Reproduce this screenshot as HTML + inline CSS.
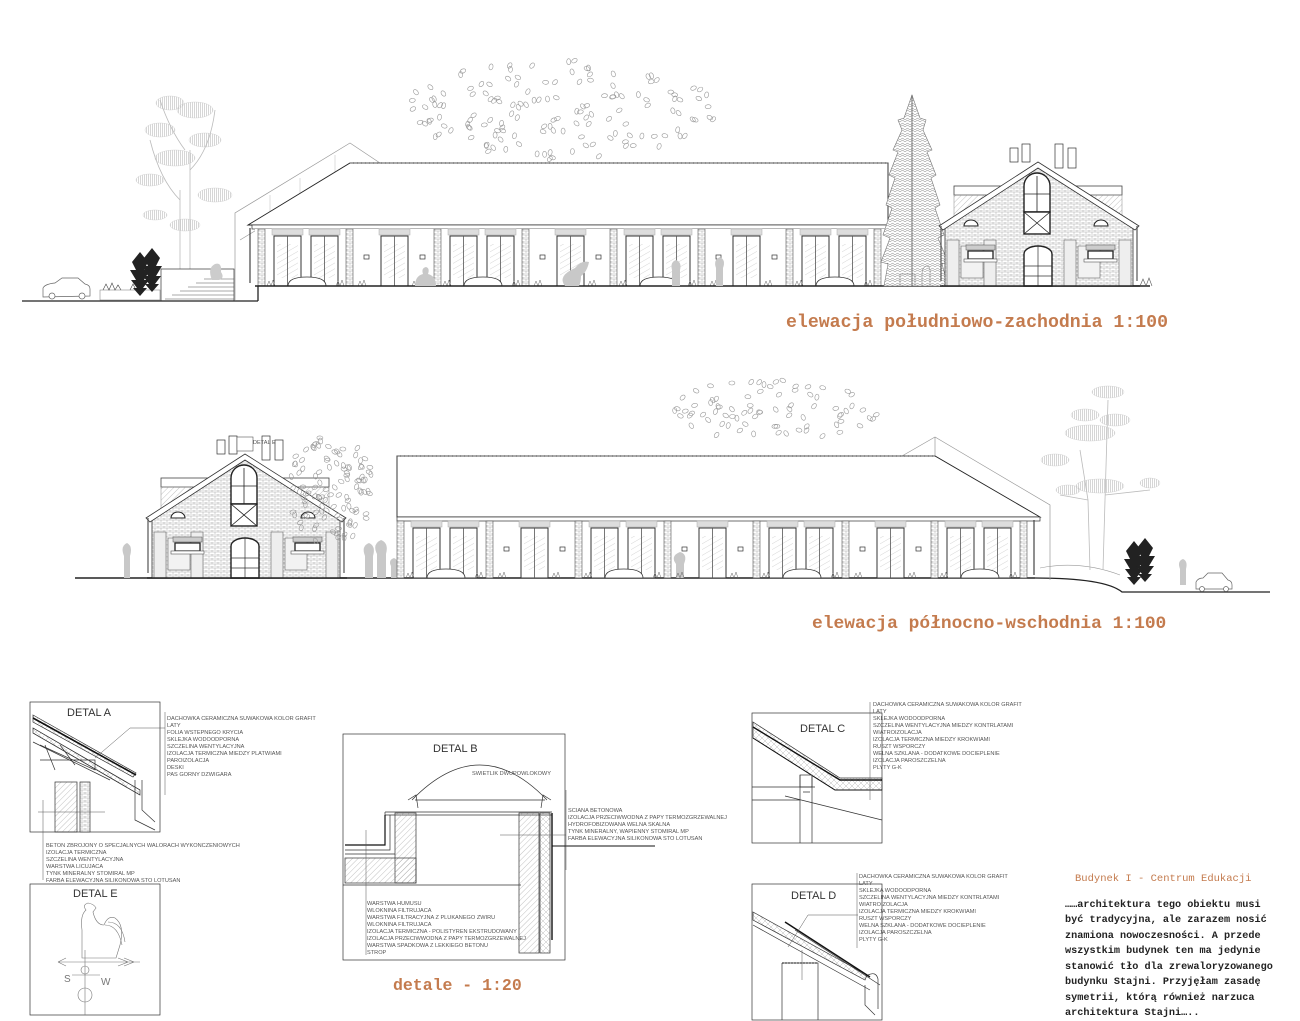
<!DOCTYPE html>
<html><head><meta charset="utf-8">
<style>
html,body{margin:0;padding:0;background:#fff;}
svg{display:block;}
.t{font-family:"Liberation Sans",sans-serif;font-size:5.6px;fill:#555;}
.ti{font-family:"Liberation Mono",monospace;font-weight:bold;fill:#c47b4e;}
.dl{font-family:"Liberation Sans",sans-serif;font-size:11px;fill:#333;}
.p{font-family:"Liberation Mono",monospace;font-size:10.2px;fill:#222;font-weight:bold;}
</style></head><body>
<svg width="1300" height="1021" viewBox="0 0 1300 1021" xmlns="http://www.w3.org/2000/svg">
<defs>
<pattern id="brick" width="6" height="4" patternUnits="userSpaceOnUse">
<rect width="6" height="4" fill="#fff"/>
<path d="M0 0H6M0 2H6M1 0V2M4 2V4" stroke="#aaa" stroke-width="0.5"/>
</pattern>
<pattern id="hatch" width="4" height="4" patternUnits="userSpaceOnUse" patternTransform="rotate(45)">
<path d="M0 0V4" stroke="#999" stroke-width="0.6"/>
</pattern>
<pattern id="vl" width="2" height="4" patternUnits="userSpaceOnUse">
<path d="M0.5 0V4" stroke="#bbb" stroke-width="0.6"/>
</pattern>
<pattern id="glass" width="5" height="5" patternUnits="userSpaceOnUse" patternTransform="rotate(60)">
<path d="M0 0V5" stroke="#ccc" stroke-width="0.8"/>
</pattern>
<pattern id="ins" width="6" height="6" patternUnits="userSpaceOnUse">
<path d="M0 0L6 6M6 0L0 6" stroke="#bbb" stroke-width="0.5"/>
</pattern>
<pattern id="fol" width="5" height="5" patternUnits="userSpaceOnUse">
<rect width="5" height="5" fill="#fff"/>
<path d="M0 2L2.5 0L5 2M0 5L2.5 3L5 5" stroke="#777" stroke-width="0.5" fill="none"/>
</pattern>
<g id="door">
<rect x="0" y="0" width="27" height="50" fill="#fff" stroke="#333" stroke-width="1"/>
<rect x="3" y="8" width="21" height="34" fill="url(#glass)"/>
<line x1="13.5" y1="0" x2="13.5" y2="50" stroke="#555" stroke-width="0.8"/>
<rect x="-2" y="-7" width="31" height="6" fill="#ddd" stroke="#aaa" stroke-width="0.5"/>
</g>
<g id="pier"><rect x="0" y="4" width="7" height="57" fill="url(#brick)" stroke="#555" stroke-width="0.6"/></g>
<g id="bayA">
<use href="#pier"/>
<use href="#door" x="16" y="11"/>
<use href="#door" x="53" y="11"/>
<path d="M30 61 Q30 52 49 52 Q68 52 68 61Z" fill="#fff" stroke="#333" stroke-width="0.8"/>
<path d="M9 61l2-5 2 5 2-6 2 6M78 61l2-5 2 5 2-6 2 6" stroke="#666" fill="none" stroke-width="0.5"/>
</g>
<g id="bayB">
<use href="#pier"/>
<use href="#door" x="35" y="11"/>
<rect x="18" y="30" width="5" height="4" fill="none" stroke="#333" stroke-width="0.7"/>
<rect x="74" y="30" width="5" height="4" fill="none" stroke="#333" stroke-width="0.7"/>
<path d="M12 61l2-5 2 5 2-6 2 6M66 61l2-5 2 5 2-6 2 6" stroke="#666" fill="none" stroke-width="0.5"/>
</g>
<g id="stable">
<rect x="-86" y="-100" width="168" height="9" fill="#fff" stroke="#444" stroke-width="0.8"/>
<rect x="-86" y="-91" width="168" height="30" fill="url(#hatch)" stroke="#888" stroke-width="0.5"/>
<path d="M-95 -58 L-2 -118 L93 -58 V0 H-95Z" fill="url(#brick)" stroke="#333" stroke-width="0.8"/>
<path d="M-101 -60 L-2 -124 L99 -60 L95 -56 L-2 -118 L-97 -56Z" fill="#fff" stroke="#333" stroke-width="0.8"/>
<rect x="-30" y="-138" width="8" height="14" fill="#fff" stroke="#333" stroke-width="0.7"/>
<rect x="-18" y="-142" width="8" height="18" fill="#fff" stroke="#333" stroke-width="0.7"/>
<rect x="15" y="-142" width="8" height="24" fill="#fff" stroke="#333" stroke-width="0.7"/>
<rect x="28" y="-138" width="8" height="20" fill="#fff" stroke="#333" stroke-width="0.7"/>
<g fill="#eee" stroke="#666" stroke-width="0.6">
<rect x="-93" y="-46" width="12" height="46"/><rect x="-56" y="-46" width="12" height="46"/>
<rect x="24" y="-46" width="12" height="46"/><rect x="79" y="-46" width="12" height="46"/>
<rect x="-79" y="-40" width="22" height="32" fill="#f2f2f2"/><rect x="38" y="-40" width="22" height="32" fill="#f2f2f2"/>
</g>
<path d="M-16 -74 V-100 A13 13 0 0 1 10 -100 V-74Z" fill="#fff" stroke="#222" stroke-width="1.4"/>
<rect x="-16" y="-74" width="26" height="22" fill="#fff" stroke="#222" stroke-width="1.4"/>
<path d="M-16 -74L10 -52M10 -74L-16 -52M-3 -110V-74M-16 -92H10" stroke="#222" stroke-width="0.8"/>
<path d="M-16 0 V-32 A14 8 0 0 1 12 -32 V0Z" fill="#fff" stroke="#222" stroke-width="1.4"/>
<path d="M-2 -40V0M-16 -20H12M-16 -10H12" stroke="#333" stroke-width="0.7"/>
<path d="M-72 -27 V-35 H-47 V-27Z M48 -27 V-35 H73 V-27Z" fill="#fff" stroke="#222" stroke-width="1.3"/>
<rect x="-74" y="-41" width="29" height="5" fill="#ccc" stroke="#555" stroke-width="0.5"/>
<rect x="46" y="-41" width="29" height="5" fill="#ccc" stroke="#555" stroke-width="0.5"/>
<rect x="-76" y="-27" width="33" height="3" fill="#fff" stroke="#555" stroke-width="0.6"/>
<rect x="44" y="-27" width="33" height="3" fill="#fff" stroke="#555" stroke-width="0.6"/>
<path d="M-76 -60 A7 6 0 0 1 -62 -60Z M54 -60 A7 6 0 0 1 68 -60Z" fill="#fff" stroke="#222" stroke-width="1.1"/>
<path d="M-99 -60V-5M97 -60V-5" stroke="#555" stroke-width="1.2"/>
<line x1="-100" y1="0" x2="100" y2="0" stroke="#222" stroke-width="1.5"/>
</g>
<g id="pine" fill="#222">
<path d="M0 0 L-7 -8 L-3 -8 L-9 -16 L-4 -16 L-10 -26 L-4 -26 L-8 -34 L0 -44 L8 -34 L4 -26 L10 -26 L4 -16 L9 -16 L3 -8 L7 -8Z"/>
</g>
</defs>

<!-- ===== ELEVATION 1 ===== -->
<g id="e1">
<g stroke="#bbb" fill="none" stroke-width="0.8">
<path d="M180 290 V190 M190 290 V150 M180 200 Q160 180 150 140 M190 170 Q210 150 215 110 M185 150 Q170 130 160 100"/>
</g>
<g fill="url(#vl)" stroke="#ccc" stroke-width="0.4">
<ellipse cx="170" cy="103" rx="14" ry="7"/><ellipse cx="195" cy="110" rx="18" ry="8"/>
<ellipse cx="160" cy="130" rx="15" ry="7"/><ellipse cx="205" cy="140" rx="16" ry="7"/>
<ellipse cx="175" cy="158" rx="20" ry="8"/><ellipse cx="150" cy="180" rx="14" ry="6"/>
<ellipse cx="215" cy="195" rx="17" ry="7"/><ellipse cx="185" cy="225" rx="15" ry="6"/>
<ellipse cx="155" cy="215" rx="12" ry="5"/>
</g>
<g stroke="#666" fill="#fff" stroke-width="0.7">
<path d="M43 297 V288 Q45 284 55 283 L62 278 H78 L85 284 Q90 285 90 289 V296Z"/>
<circle cx="52" cy="296" r="3"/><circle cx="82" cy="296" r="3"/>
</g>
<rect x="100" y="290" width="60" height="10" fill="#fff" stroke="#777" stroke-width="0.5"/>
<path d="M103 290l3-6 3 6 3-7 3 7 3-5 3 5M130 290l3-6 3 6 3-7 3 7" stroke="#444" fill="none" stroke-width="0.6"/>
<use href="#pine" x="140" y="296"/><use href="#pine" x="152" y="292"/>
<rect x="161" y="269" width="73" height="32" fill="#fff" stroke="#333" stroke-width="0.7"/>
<path d="M165 299H234M172 295H234M180 291H234M188 287H234M196 283H234M204 279H234" stroke="#555" stroke-width="0.6"/>
<path d="M212 280 q-5 -12 3 -16 q7 -2 6 8 q4 6 -2 8Z" fill="#ccc"/>
<line x1="22" y1="301" x2="258" y2="301" stroke="#222" stroke-width="1.3"/>
<line x1="258" y1="286" x2="258" y2="301" stroke="#222" stroke-width="1.3"/>
<path d="M235 300 V213 L350 143 L380 163 M240 240 L345 176" stroke="#999" fill="none" stroke-width="0.7"/>
<path d="M270 195V225M300 178V225M335 155V225" stroke="#bbb" stroke-width="0.5"/>
<path d="M248 225 L350 163 H888 V225Z" fill="#fff" stroke="#222" stroke-width="0.9"/>
<line x1="350" y1="163" x2="888" y2="163" stroke="#555" stroke-width="1" stroke-dasharray="3 1"/>
<rect x="252" y="225" width="636" height="4" fill="#fff" stroke="#333" stroke-width="0.7"/>
<rect x="255" y="229" width="633" height="57" fill="#fff"/>
<g>
<use href="#bayA" x="258" y="225"/><use href="#bayB" x="346" y="225"/>
<use href="#bayA" x="434" y="225"/><use href="#bayB" x="522" y="225"/>
<use href="#bayA" x="610" y="225"/><use href="#bayB" x="698" y="225"/>
<use href="#bayA" x="786" y="225"/><use href="#pier" x="874" y="225"/>
</g>
<path d="M250 228 V283" stroke="#444" stroke-width="1.2"/>
<line x1="255" y1="286" x2="1150" y2="286" stroke="#222" stroke-width="1.5"/>
<g fill="#c8c8c8">
<path d="M415 286 q0-10 8-12 q-2-6 3-7 q4 1 2 7 q8 2 8 12Z"/>
<path d="M565 286 q-8-10 10-18 q6-8 14-6 q-2 10 -8 14 q0 6 -2 10Z"/>
<path d="M672 286 v-16 q-2-8 4-10 q6 2 4 10 v16Z"/>
<path d="M716 286 v-18 q-3-8 4-11 q6 3 3 11 v18Z"/>
<path d="M1032 286 v-22 q-4-10 4-12 q7 3 4 12 v22Z"/>
</g>
<!-- conifer -->
<path d="M912 95 L904 118 L898 120 L902 130 L893 150 L898 152 L889 175 L895 178 L886 205 L892 208 L883 235 L890 238 L881 262 L888 264 L884 286 H948 L942 264 L948 262 L938 238 L944 235 L935 208 L940 205 L931 178 L936 175 L927 152 L932 150 L923 130 L926 120 L920 118Z" fill="url(#fol)" stroke="#777" stroke-width="0.6"/>
<path d="M912 95 V286" stroke="#555" stroke-width="0.8"/>
<use href="#stable" x="1040" y="286"/>
<path d="M900 286 v-12 h14 M905 274 h10 v12 M922 286 v-12 q0-6 4-8 q5 0 4 8 v12" stroke="#888" fill="none" stroke-width="0.6"/>
<path d="M1140 286 l3-7 3 7 3-8 3 8" stroke="#555" fill="none" stroke-width="0.6"/>
<text class="ti" x="786" y="327" font-size="18.2">elewacja południowo-zachodnia 1:100</text>
</g>

<!-- ===== ELEVATION 2 ===== -->
<g id="e2">
<line x1="75" y1="578" x2="1035" y2="578" stroke="#222" stroke-width="1.5"/>
<path d="M1035 578 Q1105 578 1122 592 H1270" stroke="#222" fill="none" stroke-width="1.3"/>
<path d="M1040 568 Q1080 560 1120 575" stroke="#999" fill="none" stroke-width="0.6"/>
<use href="#stable" x="247" y="578"/>
<rect x="237" y="437" width="16" height="14" fill="#fff" stroke="#555" stroke-width="0.6"/>
<text class="t" x="253" y="444" font-size="6">DETAL E</text>
<g fill="#c8c8c8">
<path d="M124 578 v-22 q-4-10 3-13 q6 3 3 13 v22Z"/>
<path d="M365 578 v-22 q-4-10 4-13 q7 3 4 13 v22Z"/>
<path d="M377 578 v-24 q-5-10 4-14 q8 3 5 14 v24Z"/>
<path d="M391 578 v-12 q-3-6 3-8 q5 2 3 8 v12Z"/>
<path d="M676 578 v-14 q-6-8 4-12 q8 2 4 12 v14Z"/>
<path d="M1180 585 v-16 q-3-8 3-10 q5 2 3 10 v16Z"/>
</g>
<path d="M902 456 L935 437 L1050 505 V580 M935 437 V456" stroke="#999" fill="none" stroke-width="0.7"/>
<path d="M397 456 H935 L1040 517 H397Z" fill="#fff" stroke="#222" stroke-width="0.9"/>
<line x1="397" y1="456" x2="935" y2="456" stroke="#555" stroke-width="1" stroke-dasharray="3 1"/>
<rect x="397" y="517" width="643" height="4" fill="#fff" stroke="#333" stroke-width="0.7"/>
<use href="#bayA" x="397" y="517"/><use href="#bayB" x="486" y="517"/>
<use href="#bayA" x="575" y="517"/><use href="#bayB" x="664" y="517"/>
<use href="#bayA" x="753" y="517"/><use href="#bayB" x="842" y="517"/>
<use href="#bayA" x="931" y="517"/><use href="#pier" x="1020" y="517"/>
<path d="M1034 520 V575" stroke="#444" stroke-width="1.2"/>
<g stroke="#bbb" fill="none" stroke-width="0.8">
<path d="M1090 570 L1088 500 L1080 450 M1103 570 L1105 500 L1108 400 M1088 500 L1060 495 M1105 495 L1150 490"/>
</g>
<g fill="url(#vl)" stroke="#ccc" stroke-width="0.4">
<ellipse cx="1108" cy="392" rx="16" ry="6"/><ellipse cx="1085" cy="415" rx="14" ry="6"/>
<ellipse cx="1115" cy="420" rx="15" ry="6"/><ellipse cx="1090" cy="433" rx="25" ry="8"/>
<ellipse cx="1055" cy="460" rx="14" ry="6"/><ellipse cx="1100" cy="486" rx="24" ry="7"/>
<ellipse cx="1068" cy="490" rx="12" ry="5"/><ellipse cx="1150" cy="483" rx="10" ry="5"/>
</g>
<use href="#pine" x="1134" y="585"/><use href="#pine" x="1145" y="582"/>
<g stroke="#666" fill="#fff" stroke-width="0.7">
<path d="M1196 589 V582 Q1198 578 1203 578 L1208 573 H1222 L1228 580 Q1232 581 1232 585 V589Z"/>
<circle cx="1202" cy="589" r="2.5"/><circle cx="1226" cy="589" r="2.5"/>
</g>
<text class="ti" x="812" y="628" font-size="17.9">elewacja północno-wschodnia 1:100</text>
</g>

<!-- ===== DETAILS ===== -->
<g stroke="#333" fill="none" stroke-width="0.7">
<rect x="30" y="702" width="130" height="130"/>
<path d="M33 715 L136 773 L133 777 L33 722Z" fill="url(#ins)"/>
<path d="M33 718 L136 775" stroke="#111" stroke-width="1.6"/>
<path d="M33 728 L140 790 M33 733 L140 795 M33 742 L110 780" />
<path d="M33 728 L140 790 L140 795 L33 733Z" fill="url(#ins)"/>
<path d="M40 760 L95 760 L95 770 L40 745 M60 745 L75 765 M45 745 L55 770"/>
<rect x="55" y="782" width="22" height="50" fill="url(#hatch)"/>
<rect x="80" y="782" width="10" height="50" fill="url(#brick)"/>
<path d="M135 780 v40 l20 10 M142 780 v30 l13 12"/>
<path d="M95 758 L130 728 H165" stroke="#555" stroke-width="0.5"/>
<path d="M165 712 V795" stroke="#555" stroke-width="0.5"/>
<path d="M43 800 V880 M38 812 H105" stroke="#555" stroke-width="0.5"/>
</g>
<text class="dl" x="67" y="716">DETAL A</text>
<g class="t">
<text x="167" y="720">DACHOWKA CERAMICZNA SUWAKOWA KOLOR GRAFIT</text>
<text x="167" y="727">LATY</text>
<text x="167" y="734">FOLIA WSTEPNEGO KRYCIA</text>
<text x="167" y="741">SKLEJKA WODOODPORNA</text>
<text x="167" y="748">SZCZELINA WENTYLACYJNA</text>
<text x="167" y="755">IZOLACJA TERMICZNA MIEDZY PLATWIAMI</text>
<text x="167" y="762">PAROIZOLACJA</text>
<text x="167" y="769">DESKI</text>
<text x="167" y="776">PAS GORNY DZWIGARA</text>
<text x="46" y="847">BETON ZBROJONY O SPECJALNYCH WALORACH WYKONCZENIOWYCH</text>
<text x="46" y="854">IZOLACJA TERMICZNA</text>
<text x="46" y="861">SZCZELINA WENTYLACYJNA</text>
<text x="46" y="868">WARSTWA LICUJACA</text>
<text x="46" y="875">TYNK MINERALNY STOMIRAL MP</text>
<text x="46" y="882">FARBA ELEWACYJNA SILIKONOWA STO LOTUSAN</text>
</g>
<rect x="30" y="884" width="130" height="131" fill="none" stroke="#333" stroke-width="0.7"/>
<text class="dl" x="73" y="897">DETAL E</text>
<g stroke="#777" fill="none" stroke-width="0.6">
<path d="M82 958 V930 Q80 915 86 910 Q82 905 88 903 Q94 904 96 908 L93 912 Q96 925 104 925 Q108 915 115 918 Q125 925 120 945 L116 958 Z"/>
<path d="M105 925 Q118 925 122 945 M108 922 Q122 922 125 942"/>
<path d="M58 962 H140 M58 962 l8 -4 M58 962 l8 4 M118 958 l10 4 l-10 4 M124 958 l10 4 l-10 4"/>
<path d="M85 950 V1015"/>
<circle cx="85" cy="970" r="4"/><circle cx="85" cy="995" r="7"/>
<path d="M72 975 H100"/>
</g>
<text x="64" y="982" style="font-family:'Liberation Sans',sans-serif;font-size:10px;fill:#777">S</text>
<text x="101" y="985" style="font-family:'Liberation Sans',sans-serif;font-size:10px;fill:#777">W</text>

<g stroke="#333" fill="none" stroke-width="0.7">
<rect x="343" y="734" width="222" height="226"/>
<path d="M412 800 Q480 730 547 800" />
<path d="M408 800 L416 795 L418 808 M551 800 L543 795 L541 808"/>
<line x1="415" y1="800" x2="545" y2="800"/>
<path d="M385 812 H552 M385 812 V815 H552"/>
<rect x="395" y="813" width="21" height="70" fill="url(#hatch)"/>
<rect x="345" y="858" width="71" height="25" fill="url(#hatch)"/>
<rect x="519" y="813" width="20" height="140" fill="url(#hatch)"/>
<rect x="540" y="813" width="10" height="140" fill="url(#ins)"/>
<path d="M552 813 V940" stroke="#111" stroke-width="1.4"/>
<path d="M385 815 V845 H345" stroke="#111" stroke-width="1.2"/>
<path d="M345 850 H390 V815 M345 854 H395" />
<path d="M343 885 H521"/>
<path d="M552 846 H655" stroke="#111" stroke-width="1"/>
<path d="M566 790 V870" stroke="#555" stroke-width="0.5"/>
<path d="M500 835 H566" stroke="#555" stroke-width="0.5"/>
<path d="M366 830 V955" stroke="#555" stroke-width="0.5"/>
</g>
<text class="dl" x="433" y="752">DETAL B</text>
<g class="t">
<text x="472" y="775">SWIETLIK DWUPOWLOKOWY</text>
<text x="568" y="812">SCIANA BETONOWA</text>
<text x="568" y="819">IZOLACJA PRZECIWWODNA Z PAPY TERMOZGRZEWALNEJ</text>
<text x="568" y="826">HYDROFOBIZOWANA WELNA SKALNA</text>
<text x="568" y="833">TYNK MINERALNY, WAPIENNY STOMIRAL MP</text>
<text x="568" y="840">FARBA ELEWACYJNA SILIKONOWA STO LOTUSAN</text>
<text x="367" y="905">WARSTWA HUMUSU</text>
<text x="367" y="912">WLOKNINA FILTRUJACA</text>
<text x="367" y="919">WARSTWA FILTRACYJNA Z PLUKANEGO ZWIRU</text>
<text x="367" y="926">WLOKNINA FILTRUJACA</text>
<text x="367" y="933">IZOLACJA TERMICZNA - POLISTYREN EKSTRUDOWANY</text>
<text x="367" y="940">IZOLACJA PRZECIWWODNA Z PAPY TERMOZGRZEWALNEJ</text>
<text x="367" y="947">WARSTWA SPADKOWA Z LEKKIEGO BETONU</text>
<text x="367" y="954">STROP</text>
</g>
<text class="ti" x="393" y="990" font-size="16.5">detale - 1:20</text>

<g stroke="#333" fill="none" stroke-width="0.7">
<rect x="752" y="713" width="130" height="130"/>
<path d="M753 722 L840 778 H882 V790 H835 L753 738Z" fill="url(#ins)"/>
<path d="M753 727 L840 780 H882" stroke="#111" stroke-width="1.4"/>
<path d="M753 738 L835 790 H882" stroke="#111" stroke-width="1"/>
<path d="M800 775 V843 M812 775 V843 M803 792 H810 M752 787 H815 M752 800 H800 M785 796 L882 820"/>
<rect x="800" y="775" width="12" height="12"/>
<path d="M870 702 V800" stroke="#555" stroke-width="0.5"/>
</g>
<text class="dl" x="800" y="732">DETAL C</text>
<g class="t">
<text x="873" y="706">DACHOWKA CERAMICZNA SUWAKOWA KOLOR GRAFIT</text>
<text x="873" y="713">LATY</text>
<text x="873" y="720">SKLEJKA WODOODPORNA</text>
<text x="873" y="727">SZCZELINA WENTYLACYJNA MIEDZY KONTRLATAMI</text>
<text x="873" y="734">WIATROIZOLACJA</text>
<text x="873" y="741">IZOLACJA TERMICZNA MIEDZY KROKWIAMI</text>
<text x="873" y="748">RUSZT WSPORCZY</text>
<text x="873" y="755">WELNA SZKLANA - DODATKOWE DOCIEPLENIE</text>
<text x="873" y="762">IZOLACJA PAROSZCZELNA</text>
<text x="873" y="769">PLYTY G-K</text>
</g>

<g stroke="#333" fill="none" stroke-width="0.7">
<rect x="752" y="884" width="130" height="136"/>
<path d="M753 912 L867 975 L865 980 L753 920Z" fill="url(#ins)"/>
<path d="M785 922 L870 977" stroke="#111" stroke-width="1.5"/>
<path d="M753 925 L870 990 M795 930 L880 985"/>
<path d="M782 963 H818 V1020 M782 963 V1020" />
<path d="M782 963 H818" stroke="#111" stroke-width="1" stroke-dasharray="2 1"/>
<path d="M868 975 q8 -4 10 4 v30 M865 985 v20 l10 10"/>
<path d="M788 947 L808 915 H858 M802 950 V980" stroke="#555" stroke-width="0.5"/>
<path d="M857 873 V948" stroke="#555" stroke-width="0.5"/>
</g>
<text class="dl" x="791" y="899">DETAL D</text>
<g class="t">
<text x="859" y="878">DACHOWKA CERAMICZNA SUWAKOWA KOLOR GRAFIT</text>
<text x="859" y="885">LATY</text>
<text x="859" y="892">SKLEJKA WODOODPORNA</text>
<text x="859" y="899">SZCZELINA WENTYLACYJNA MIEDZY KONTRLATAMI</text>
<text x="859" y="906">WIATROIZOLACJA</text>
<text x="859" y="913">IZOLACJA TERMICZNA MIEDZY KROKWIAMI</text>
<text x="859" y="920">RUSZT WSPORCZY</text>
<text x="859" y="927">WELNA SZKLANA - DODATKOWE DOCIEPLENIE</text>
<text x="859" y="934">IZOLACJA PAROSZCZELNA</text>
<text x="859" y="941">PLYTY G-K</text>
</g>

<text class="ti" x="1075" y="881" font-size="10.5" style="font-weight:normal">Budynek I  - Centrum Edukacji</text>
<g class="p">
<text x="1065" y="907">……architektura tego obiektu musi</text>
<text x="1065" y="922">być tradycyjna, ale zarazem nosić</text>
<text x="1065" y="938">znamiona nowoczesności. A przede</text>
<text x="1065" y="953">wszystkim budynek ten ma jedynie</text>
<text x="1065" y="969">stanowić tło dla zrewaloryzowanego</text>
<text x="1065" y="984">budynku Stajni. Przyjęłam zasadę</text>
<text x="1065" y="1000">symetrii, którą również narzuca</text>
<text x="1065" y="1015">architektura Stajni…..</text>
</g>
<g id="leaves" fill="none" stroke="#999" stroke-width="0.6"></g>
</svg>
<script>
(function(){
var g=document.getElementById('leaves');var s=12345;
function r(){s=(s*16807)%2147483647;return s/2147483647;}
function cloud(cx,cy,rx,ry,n){
 for(var i=0;i<n;i++){var a=r()*6.283,d=Math.sqrt(r());
 var x=cx+Math.cos(a)*rx*d,y=cy+Math.sin(a)*ry*d;
 var e=document.createElementNS('http://www.w3.org/2000/svg','ellipse');
 e.setAttribute('cx',x.toFixed(1));e.setAttribute('cy',y.toFixed(1));
 e.setAttribute('rx','2');e.setAttribute('ry','3');
 e.setAttribute('transform','rotate('+Math.round(r()*180)+' '+x.toFixed(1)+' '+y.toFixed(1)+')');
 g.appendChild(e);}}
cloud(560,110,160,50,150);
cloud(330,490,45,55,110);
cloud(770,410,110,30,80);
})();
</script>
</body></html>
